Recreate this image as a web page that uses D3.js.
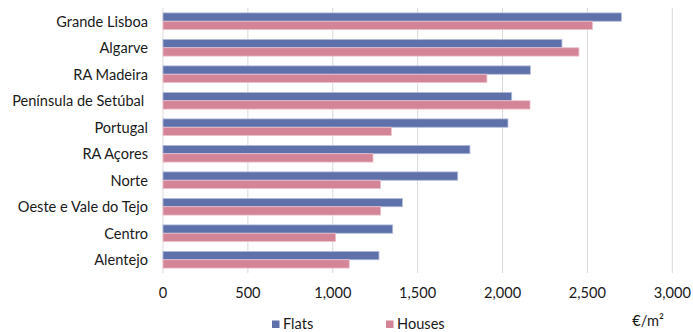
<!DOCTYPE html>
<html>
<head>
<meta charset="utf-8">
<script src="https://cdn.jsdelivr.net/npm/d3@7/dist/d3.min.js"></script>
<style>
  html, body { margin: 0; padding: 0; background: #fff; }
  svg { display: block; font-family: Lato, "Open Sans", sans-serif; }
</style>
</head>
<body>
<svg id="chart" width="693" height="332"></svg>
<script>
// Regions, top to bottom
const regions = ["Grande Lisboa", "Algarve", "RA Madeira", "Península de Setúbal ", "Portugal",
                 "RA Açores", "Norte", "Oeste e Vale do Tejo", "Centro", "Alentejo"];
// Median price per square metre (€/m²)
const flats  = [2700, 2350, 2164, 2054, 2032, 1808, 1736, 1410, 1353, 1272];
const houses = [2530, 2450, 1908, 2162, 1345, 1237, 1282, 1282, 1017, 1097];
const seriesNames = ["Flats", "Houses"];
const xTicks = [0, 500, 1000, 1500, 2000, 2500, 3000];
const unitLabel = "€/m²";

const colors = { Flats: "#5e71aa", Houses: "#d48497" };
const strokes = { Flats: "#b3bcdb", Houses: "#ecc3cd" };
const textColor = "#1a1a1a";
const fontSize = 14.6;

const svg = d3.select("#chart");
const plotLeft = 163, plotRight = 672.3, plotTop = 8, plotBottom = 273;

const x = d3.scaleLinear().domain([0, 3000]).range([plotLeft, plotRight]);
const y = d3.scaleBand().domain(regions).range([plotTop, plotBottom])
  .paddingInner(0.37).paddingOuter(0.185);
const ySub = d3.scaleBand().domain(seriesNames).range([0, y.bandwidth()]);

// Vertical gridlines
svg.append("g").selectAll("line").data(xTicks).join("line")
  .attr("x1", d => x(d)).attr("x2", d => x(d))
  .attr("y1", plotTop).attr("y2", plotBottom)
  .attr("stroke", "#d9d9d9").attr("stroke-width", 1);

// Bars
const rows = regions.map((r, i) => ({ region: r, Flats: flats[i], Houses: houses[i] }));
const groups = svg.append("g").selectAll("g").data(rows).join("g")
  .attr("transform", d => `translate(0,${y(d.region)})`);
groups.selectAll("rect")
  .data(d => seriesNames.map(s => ({ s, v: d[s] })))
  .join("rect")
  .attr("x", x(0))
  .attr("y", d => ySub(d.s))
  .attr("width", d => x(d.v) - x(0))
  .attr("height", ySub.bandwidth())
  .attr("fill", d => colors[d.s])
  .attr("stroke", d => strokes[d.s])
  .attr("stroke-width", 0.8);

// Category axis labels
svg.append("g").selectAll("text").data(regions).join("text")
  .attr("x", 148)
  .attr("y", d => y(d) + y.bandwidth() / 2)
  .attr("text-anchor", "end")
  .attr("dominant-baseline", "central")
  .attr("font-size", fontSize)
  .attr("fill", textColor)
  .style("white-space", "pre")
  .text(d => d);

// Value axis
const fmt = d3.format(",");
svg.append("g").selectAll("text").data(xTicks).join("text")
  .attr("x", d => x(d))
  .attr("y", 292)
  .attr("text-anchor", "middle")
  .attr("dominant-baseline", "central")
  .attr("font-size", fontSize)
  .attr("fill", textColor)
  .text(d => fmt(d));

// Unit label
svg.append("text")
  .attr("x", 648).attr("y", 320)
  .attr("text-anchor", "middle")
  .attr("dominant-baseline", "central")
  .attr("font-size", fontSize)
  .attr("fill", textColor)
  .text(unitLabel);

// Legend
const legendX = { Flats: 272, Houses: 386 };
const legend = svg.append("g").selectAll("g").data(seriesNames).join("g")
  .attr("transform", d => `translate(${legendX[d]},0)`);
legend.append("rect")
  .attr("x", 0).attr("y", 320.5).attr("width", 7.5).attr("height", 7.5)
  .attr("fill", d => colors[d]);
legend.append("text")
  .attr("x", 11).attr("y", 323.5)
  .attr("dominant-baseline", "central")
  .attr("font-size", fontSize)
  .attr("fill", textColor)
  .text(d => d);
</script>
</body>
</html>
